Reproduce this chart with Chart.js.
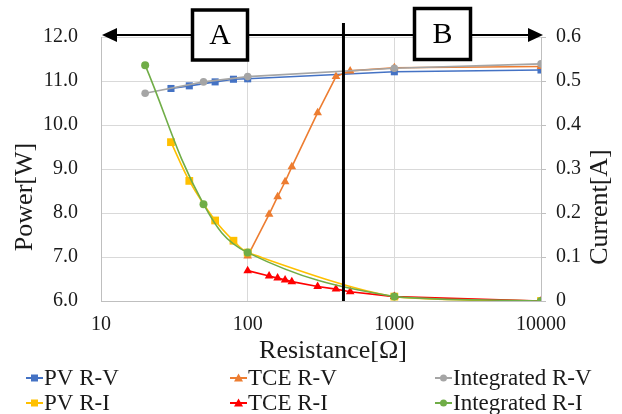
<!DOCTYPE html>
<html>
<head>
<meta charset="utf-8">
<script src="https://cdn.jsdelivr.net/npm/chart.js@4.4.1/dist/chart.umd.min.js"></script>
<style>
  body { margin: 0; background: #fff; }
  #wrap { width: 622px; height: 414px; position: relative; }
</style>
</head>
<body>
<div id="wrap"><canvas id="chartRes"></canvas></div>
<script>
// datos
const pvR = [30, 40, 60, 80, 100, 1000, 10000];
const pvPower = [10.83, 10.89, 10.98, 11.04, 11.05, 11.21, 11.25];
const pvCurrent = [0.361, 0.273, 0.183, 0.137, 0.110, 0.010, 0];

const tceR = [100, 140, 160, 180, 200, 300, 400, 500, 1000, 10000];
const tcePower = [7.02, 7.97, 8.37, 8.71, 9.05, 10.28, 11.10, 11.23, 11.30, 11.33];
const tceCurrent = [0.069, 0.057, 0.052, 0.048, 0.044, 0.033, 0.027, 0.021, 0.010, 0];

const intR = [20, 50, 100, 1000, 10000];
const intPower = [10.72, 10.98, 11.10, 11.29, 11.39];
const intCurrent = [0.536, 0.220, 0.110, 0.010, 0];

const xTicks = [10, 100, 1000, 10000];
const boundaryR = 450;

const FONT = "'Liberation Serif', 'Times New Roman', serif";

function pts(xs, ys) {
  return xs.map((x, i) => ({ x: x, y: ys[i] }));
}

function serie(label, xs, ys, color, style, radius, axis, tension, order) {
  return {
    label: label,
    data: pts(xs, ys),
    yAxisID: axis,
    borderColor: color,
    backgroundColor: color,
    borderWidth: 1.6,
    pointStyle: style,
    pointRadius: radius,
    pointHoverRadius: radius,
    pointBorderWidth: 0,
    tension: tension,
    order: order
  };
}

// titulos, leyenda y anotaciones A / B
const extras = {
  id: 'extras',
  afterDatasetsDraw(chart) {
    const c = chart.ctx;
    const area = chart.chartArea;
    const bx = chart.scales.x.getPixelForValue(boundaryR);
    c.save();
    c.strokeStyle = '#000';
    c.fillStyle = '#000';
    // linea vertical
    c.lineWidth = 3;
    c.beginPath();
    c.moveTo(bx, 23);
    c.lineTo(bx, area.bottom);
    c.stroke();
    // flecha horizontal
    const ay = 35;
    c.lineWidth = 1.8;
    c.beginPath();
    c.moveTo(area.left + 14, ay);
    c.lineTo(area.right - 12, ay);
    c.stroke();
    c.beginPath();
    c.moveTo(area.left + 1, ay);
    c.lineTo(area.left + 16, ay - 7);
    c.lineTo(area.left + 16, ay + 7);
    c.closePath();
    c.fill();
    c.beginPath();
    c.moveTo(area.right + 2, ay);
    c.lineTo(area.right - 13, ay - 7);
    c.lineTo(area.right - 13, ay + 7);
    c.closePath();
    c.fill();
    // cajas
    [['A', 192.5, 10, 55, 50], ['B', 414.5, 8.5, 56, 51]].forEach(b => {
      c.fillStyle = '#fff';
      c.fillRect(b[1], b[2], b[3], b[4]);
      c.lineWidth = 3.5;
      c.strokeStyle = '#000';
      c.strokeRect(b[1], b[2], b[3], b[4]);
      c.fillStyle = '#000';
      c.font = '30px ' + FONT;
      c.textAlign = 'center';
      c.textBaseline = 'middle';
      c.fillText(b[0], b[1] + b[3] / 2, b[2] + b[4] / 2 + 1);
    });
    c.restore();
  },
  afterDraw(chart) {
    const c = chart.ctx;
    c.save();
    c.fillStyle = '#1a1a1a';
    c.font = '26px ' + FONT;
    c.textAlign = 'center';
    c.textBaseline = 'middle';
    c.fillText('Resistance[\u03A9]', 333, 351);
    c.save();
    c.translate(25, 197);
    c.rotate(-Math.PI / 2);
    c.fillText('Power[W]', 0, 0);
    c.restore();
    c.save();
    c.translate(600, 207);
    c.rotate(-Math.PI / 2);
    c.fillText('Current[A]', 0, 0);
    c.restore();

    // leyenda en 3 columnas
    const colX = [26, 230, 435];
    const rowY = [378, 403];
    chart.data.datasets.forEach((ds, i) => {
      const x = colX[i % 3];
      const y = rowY[Math.floor(i / 3)];
      c.strokeStyle = ds.borderColor;
      c.fillStyle = ds.borderColor;
      c.lineWidth = 2;
      c.beginPath();
      c.moveTo(x, y);
      c.lineTo(x + 17, y);
      c.stroke();
      const mx = x + 8.5;
      c.beginPath();
      if (ds.pointStyle === 'rect') {
        c.rect(mx - 3.5, y - 3.5, 7, 7);
      } else if (ds.pointStyle === 'triangle') {
        c.moveTo(mx, y - 4.5);
        c.lineTo(mx + 4.5, y + 3.5);
        c.lineTo(mx - 4.5, y + 3.5);
        c.closePath();
      } else {
        c.arc(mx, y, 3.5, 0, Math.PI * 2);
      }
      c.fill();
      c.fillStyle = '#1a1a1a';
      c.font = '23px ' + FONT;
      c.textAlign = 'left';
      c.fillText(ds.label, x + 18, y + 1);
    });
    c.restore();
  }
};

const ctx = document.getElementById('chartRes');

new Chart(ctx, {
  type: 'line',
  data: {
    datasets: [
      serie('PV R-V', pvR, pvPower, '#4472C4', 'rect', 5, 'y', 0, 5),
      serie('TCE R-V', tceR, tcePower, '#ED7D31', 'triangle', 5, 'y', 0, 4),
      serie('Integrated R-V', intR, intPower, '#A5A5A5', 'circle', 3.8, 'y', 0, 3),
      serie('PV R-I', pvR, pvCurrent, '#FFC000', 'rect', 5.5, 'y1', 0.3, 2),
      serie('TCE R-I', tceR, tceCurrent, '#FF0000', 'triangle', 5, 'y1', 0, 1),
      serie('Integrated R-I', intR, intCurrent, '#70AD47', 'circle', 4, 'y1', 0.4, 0)
    ]
  },
  options: {
    responsive: true,
    maintainAspectRatio: false,
    animation: false,
    layout: { padding: { top: 37, left: 0, right: 0, bottom: 73 } },
    plugins: {
      legend: { display: false },
      tooltip: { enabled: false }
    },
    scales: {
      x: {
        type: 'logarithmic',
        min: 10,
        max: 10000,
        afterBuildTicks: s => { s.ticks = xTicks.map(v => ({ value: v })); },
        afterFit: s => { s.height = 40; },
        grid: { color: '#d9d9d9', drawTicks: false },
        border: { color: '#bfbfbf' },
        ticks: {
          padding: 12,
          color: '#1a1a1a',
          font: { family: FONT, size: 20 },
          callback: v => String(v)
        }
      },
      y: {
        position: 'left',
        min: 6,
        max: 12,
        afterFit: s => { s.width = 101; },
        grid: { color: '#d9d9d9', drawTicks: false },
        border: { color: '#bfbfbf' },
        ticks: {
          stepSize: 1,
          padding: 23,
          color: '#1a1a1a',
          font: { family: FONT, size: 20 },
          callback: v => v.toFixed(1)
        }
      },
      y1: {
        position: 'right',
        min: 0,
        max: 0.6,
        afterFit: s => { s.width = 81; },
        grid: { drawOnChartArea: false, color: '#bfbfbf', tickLength: 5 },
        border: { color: '#bfbfbf' },
        ticks: {
          stepSize: 0.1,
          padding: 10,
          color: '#1a1a1a',
          font: { family: FONT, size: 20 },
          callback: v => (v === 0 ? '0' : v.toFixed(1))
        }
      }
    }
  },
  plugins: [extras]
});
</script>
</body>
</html>
